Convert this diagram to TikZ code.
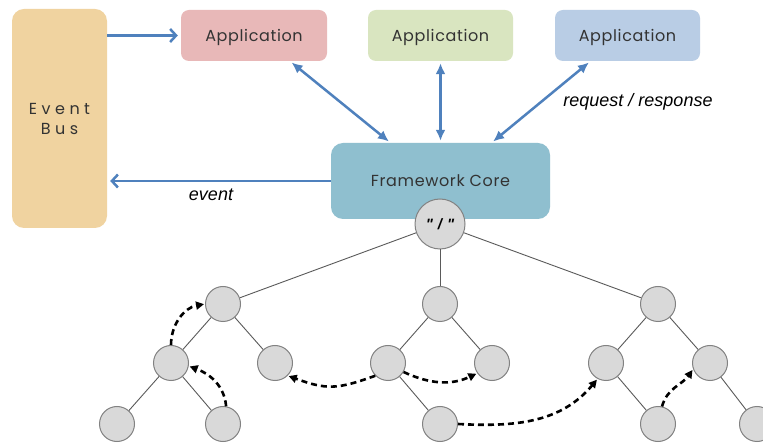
\documentclass[tikz,border=0pt]{standalone}
\usepackage{fontspec}
\usetikzlibrary{arrows.meta,calc}
\newfontfamily\gothic{Poppins}[LetterSpace=4]
\newfontfamily\gothicwide{Poppins}[LetterSpace=28]
\newfontfamily\helv{Liberation Sans}
\definecolor{busfill}{RGB}{240,211,160}
\definecolor{appA}{RGB}{232,184,184}
\definecolor{appB}{RGB}{217,229,192}
\definecolor{appC}{RGB}{185,205,229}
\definecolor{corefill}{RGB}{143,191,207}
\definecolor{circfill}{RGB}{217,217,217}
\definecolor{circline}{RGB}{130,130,130}
\definecolor{edgegray}{RGB}{90,90,90}
\definecolor{arrblue}{RGB}{79,129,189}
\definecolor{textgray}{RGB}{51,51,51}
\tikzset{
  box/.style={rounded corners=8pt, inner sep=0pt, align=center, text=textgray,
    text depth=0pt, font=\gothic\fontsize{16}{19}\selectfont},
  circ/.style={circle, draw=circline, fill=circfill, line width=1pt,
    minimum size=35pt, inner sep=0pt},
  tedge/.style={draw=edgegray, line width=0.9pt},
  bluebarb/.style={draw=arrblue, line width=2.5pt, -{Straight Barb[length=6pt,width=13pt,line width=2.5pt]}},
  bluedbl/.style={draw=arrblue, line width=2.5pt, {Latex[length=11pt,width=10pt]}-{Latex[length=11pt,width=10pt]}},
  dasharr/.style={black, line width=2.6pt, dash pattern=on 6pt off 4pt,
    -{Triangle[length=8pt,width=8pt]}, shorten >=1pt},
  lbl/.style={font=\helv\itshape\fontsize{18}{21}\selectfont, text=black, inner sep=0pt}
}
\begin{document}
\begin{tikzpicture}[x=1pt,y=1pt]
\clip (0,0) rectangle (763,-443);
\fill[white] (0,0) rectangle (763,-443);
% boxes
\node[box, fill=busfill, rounded corners=12pt, minimum width=95pt, minimum height=219pt,
  font=\gothicwide\fontsize{16}{20}\selectfont] (bus) at (59.5,-118.5) {Event\\Bus};
\node[box, fill=appA, minimum width=146pt, minimum height=51pt] (app1) at (254,-35.5) {Application};
\node[box, fill=appB, minimum width=145pt, minimum height=51pt] (app2) at (440.5,-35.5) {Application};
\node[box, fill=appC, minimum width=145pt, minimum height=51pt] (app3) at (627.5,-35.5) {Application};
\node[box, fill=corefill, rounded corners=12pt, minimum width=219pt, minimum height=76pt] (core) at (440.5,-181) {Framework Core};
% blue arrows
\draw[bluebarb, shorten >=3pt] (bus.east |- app1.west) -- (app1.west);
\draw[bluebarb, shorten >=3pt] (core.west) -- (core.west -| bus.east);
\draw[bluedbl, shorten <=2pt, shorten >=2pt] ($(app1.south)+(36,0)$) -- ($(core.north)+(-50,0)$);
\draw[bluedbl, shorten <=2pt, shorten >=2pt] (app2.south) -- (core.north);
\draw[bluedbl, shorten <=2pt, shorten >=2pt] ($(app3.south)+(-37,0)$) -- ($(core.north)+(51,0)$);
\node[lbl] (evlbl) at (211,-195) {event};
\node[lbl] (rrlbl) at (638,-102) {request / response};
% tree nodes
\node[circ, minimum size=50pt, font=\helv\bfseries\itshape\fontsize{15}{17}\selectfont] (root) at (440,-224) {"\,\,/\,\,"};
\node[circ] (L1a) at (223,-304) {};
\node[circ] (L1b) at (440,-304) {};
\node[circ] (L1c) at (658,-304) {};
\node[circ] (L2a) at (171,-363) {};
\node[circ] (L2b) at (275,-363) {};
\node[circ] (L2c) at (388,-363) {};
\node[circ] (L2d) at (492,-363) {};
\node[circ] (L2e) at (606,-363) {};
\node[circ] (L2f) at (710,-363) {};
\node[circ] (L3a) at (117,-424) {};
\node[circ] (L3b) at (223,-424) {};
\node[circ] (L3c) at (440,-424) {};
\node[circ] (L3d) at (658,-424) {};
\node[circ] (L3e) at (757,-424) {};
% tree edges
\draw[tedge] (root) -- (L1a);
\draw[tedge] (root) -- (L1b);
\draw[tedge] (root) -- (L1c);
\draw[tedge] (L1a) -- (L2a);
\draw[tedge] (L1a) -- (L2b);
\draw[tedge] (L1b) -- (L2c);
\draw[tedge] (L1b) -- (L2d);
\draw[tedge] (L1c) -- (L2e);
\draw[tedge] (L1c) -- (L2f);
\draw[tedge] (L2a) -- (L3a);
\draw[tedge] (L2a) -- (L3b);
\draw[tedge] (L2c) -- (L3c);
\draw[tedge] (L2e) -- (L3d);
\draw[tedge] (L2f) -- (L3e);
% dashed traversal arrows
\draw[dasharr] (L2a.north) to[out=90,in=190] (L1a.west);
\draw[dasharr] (L3b.80) to[out=95,in=-20] (L2a.-10);
\draw[dasharr] (L2c.-135) to[out=-160,in=-20,looseness=1.2] (L2b.-45);
\draw[dasharr] (L2c.-30) to[out=-25,in=-155] (L2d.-145);
\draw[dasharr] (L3c.east) to[out=-3,in=-130] (L2e.-118);
\draw[dasharr] (L3d.77) to[out=75,in=-125] (L2f.200);
\end{tikzpicture}
\end{document}
